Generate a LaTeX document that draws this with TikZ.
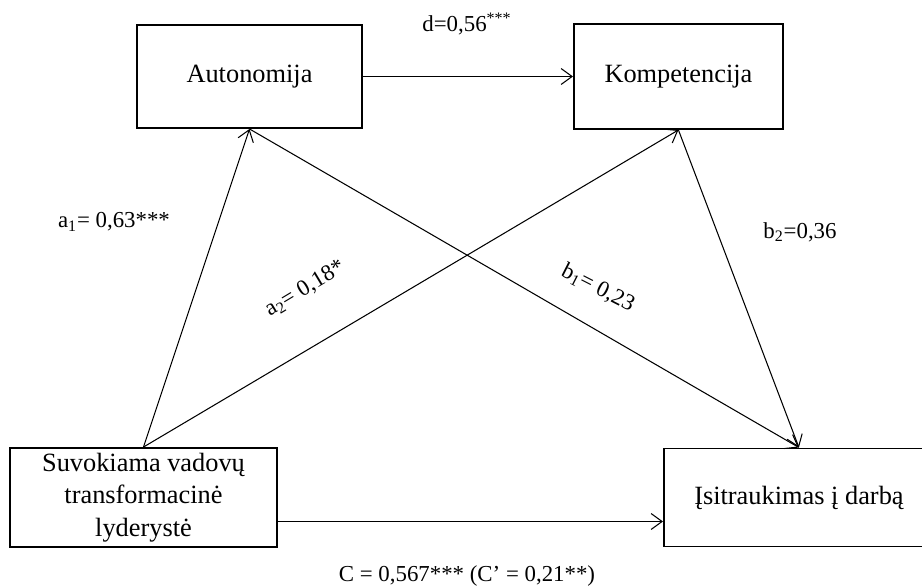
\documentclass[tikz,border=0pt]{standalone}
\usepackage{fontspec}
\setmainfont{Liberation Serif}
\usetikzlibrary{arrows.meta, positioning}
\tikzstyle{box} = [rectangle, draw=black, line width=1.1pt, align=center, font=\fontsize{15}{18.5}\selectfont]
\tikzstyle{arrow} = [line width=0.6pt, -{Straight Barb[length=2.2mm, width=3.2mm]}]
\tikzstyle{coef} = [font=\fontsize{13}{15}\selectfont]

\begin{document}
\begin{tikzpicture}
    \useasboundingbox (0,0) rectangle (18.44,11.74);

    \node (auto) [box, minimum width=4.5cm, minimum height=2.06cm] at (4.99,10.21) {Autonomija};
    \node (komp) [box, minimum width=4.18cm, minimum height=2.1cm, right=4.2cm of auto] {Kompetencija};
    \node (lyd) [box, inner ysep=0pt, minimum width=5.34cm, minimum height=1.98cm] at (2.87,1.79) {Suvokiama vadovų\\transformacinė\\lyderystė};
    \node (isit) [box, minimum width=5.4cm, minimum height=1.96cm, right=7.7cm of lyd] {Įsitraukimas į darbą};

    \node (d) [coef] at (9.34,11.26) {d=0,56\textsuperscript{***}};
    \node (a1) [coef] at (2.28,7.30) {a\textsubscript{1}= 0,63***};
    \node (a2) [coef, rotate=31] at (6.10,5.96) {a\textsubscript{2}= 0,18*};
    \node (b1) [coef, rotate=-27] at (11.96,5.98) {b\textsubscript{1}= 0,23};
    \node (b2) [coef] at (16.0,7.10) {b\textsubscript{2}=0,36};
    \node (c) [coef] at (9.34,0.22) {C = 0,567*** (C’ = 0,21**)};

    \draw [arrow] (auto) -- (komp);
    \draw [arrow] (lyd.north) -- (auto.south);
    \draw [arrow] (lyd.north) -- (komp.south);
    \draw [arrow] (auto.south) -- (isit.north);
    \draw [arrow] (komp.south) -- (isit.north);
    \draw [arrow] ([yshift=-0.48cm]lyd.east) -- ([yshift=-0.48cm]isit.west);
  \end{tikzpicture}
\end{document}
